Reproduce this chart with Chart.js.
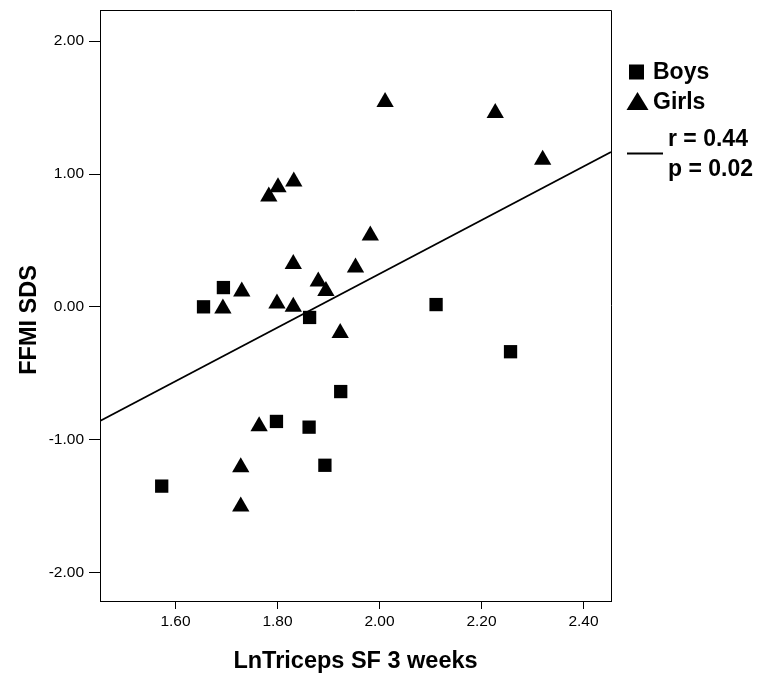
<!DOCTYPE html>
<html>
<head>
<meta charset="utf-8">
<title>FFMI SDS vs LnTriceps SF</title>
<script src="https://cdn.jsdelivr.net/npm/chart.js@4.4.0/dist/chart.umd.min.js"></script>
<style>
  html, body { margin: 0; padding: 0; background: #fff; }
  #wrap { width: 762px; height: 679px; }
</style>
</head>
<body>
<div id="wrap"><canvas id="scatterChart" width="762" height="679"></canvas></div>
<script>
(function() {
  'use strict';

  // LnTriceps SF at 3 weeks (x) against FFMI SDS (y)
  var boysX = [1.573, 1.655, 1.694, 1.798, 1.863, 1.862, 1.893, 1.924, 2.111, 2.257];
  var boysY = [-1.350, 0.000, 0.145, -0.863, -0.080, -0.906, -1.193, -0.638, 0.017, -0.338];

  var girlsX = [2.011, 2.227, 2.320, 1.832, 1.801, 1.783, 1.982, 1.831, 1.953, 1.880,
                1.730, 1.895, 1.693, 1.799, 1.831, 1.923, 1.764, 1.728, 1.728];
  var girlsY = [1.543, 1.460, 1.108, 0.943, 0.900, 0.830, 0.537, 0.323, 0.297, 0.190,
                0.115, 0.120, -0.013, 0.025, 0.000, -0.198, -0.900, -1.208, -1.504];

  // regression line, both sexes together
  var fitX = [1.452, 2.454];
  var fitY = [-0.860, 1.165];

  var xTicks = [1.6, 1.8, 2.0, 2.2, 2.4];
  var yTicks = [-2, -1, 0, 1, 2];
  var legendLabels = ['Boys', 'Girls'];
  var statLabels = ['r = 0.44', 'p = 0.02'];

  var FONT = '"Liberation Sans", Arial, Helvetica, sans-serif';

  function toPoints(xs, ys) {
    return xs.map(function(x, i) { return {x: x, y: ys[i]}; });
  }

  function fixedTicks(values) {
    return function(scale) {
      scale.ticks = values.map(function(v) { return {value: v}; });
    };
  }

  // frame, y title and the legend box on the right
  var extras = {
    id: 'extras',
    afterDraw: function(chart) {
      var ctx = chart.ctx;
      var area = chart.chartArea;
      ctx.save();
      ctx.strokeStyle = '#000';
      ctx.fillStyle = '#000';
      ctx.lineWidth = 1;
      ctx.beginPath();
      ctx.moveTo(area.left, area.top + 0.5);
      ctx.lineTo(area.right + 0.5, area.top + 0.5);
      ctx.lineTo(area.right + 0.5, area.bottom);
      ctx.stroke();

      ctx.save();
      ctx.translate(30, 320);
      ctx.rotate(-Math.PI / 2);
      ctx.font = 'bold 23.5px ' + FONT;
      ctx.textAlign = 'center';
      ctx.textBaseline = 'middle';
      ctx.fillText('FFMI SDS', 0, 0);
      ctx.restore();

      ctx.font = 'bold 23px ' + FONT;
      ctx.textAlign = 'left';
      ctx.textBaseline = 'alphabetic';

      ctx.fillRect(629, 64.5, 15, 15);
      ctx.fillText(legendLabels[0], 653, 79);

      ctx.beginPath();
      ctx.moveTo(637.5, 92);
      ctx.lineTo(648.5, 110);
      ctx.lineTo(626.5, 110);
      ctx.closePath();
      ctx.fill();
      ctx.fillText(legendLabels[1], 653, 109);

      ctx.lineWidth = 2;
      ctx.beginPath();
      ctx.moveTo(627, 153.5);
      ctx.lineTo(663, 153.5);
      ctx.stroke();
      ctx.fillText(statLabels[0], 668, 146);
      ctx.fillText(statLabels[1], 668, 176);
      ctx.restore();
    }
  };

  var ctx = document.getElementById('scatterChart');

  var scatterChart = new Chart(ctx, {
    type: 'scatter',
    data: {
      datasets: [{
        label: legendLabels[0],
        data: toPoints(boysX, boysY),
        pointStyle: 'rect',
        pointRadius: 9.4,
        backgroundColor: '#000',
        borderColor: '#000',
        borderWidth: 0
      }, {
        label: legendLabels[1],
        data: toPoints(girlsX, girlsY),
        pointStyle: 'triangle',
        pointRadius: 10,
        backgroundColor: '#000',
        borderColor: '#000',
        borderWidth: 0
      }, {
        type: 'line',
        label: 'fit',
        data: toPoints(fitX, fitY),
        showLine: true,
        pointRadius: 0,
        borderColor: '#000',
        borderWidth: 1.8,
        fill: false
      }]
    },
    options: {
      responsive: false,
      animation: false,
      devicePixelRatio: 1,
      layout: {
        padding: {left: 0, top: 8, right: 151, bottom: 0}
      },
      plugins: {
        legend: {display: false},
        tooltip: {enabled: false}
      },
      scales: {
        x: {
          type: 'linear',
          min: 1.452,
          max: 2.454,
          afterBuildTicks: fixedTicks(xTicks),
          afterFit: function(scale) {
            scale.height = 78;
            scale.paddingLeft = 0;
            scale.paddingRight = 0;
          },
          grid: {
            drawOnChartArea: false,
            drawTicks: true,
            tickLength: 8,
            color: '#000',
            lineWidth: 1
          },
          border: {display: true, color: '#000', width: 1},
          ticks: {
            padding: 3,
            color: '#000',
            font: {family: FONT, size: 15.5},
            maxRotation: 0,
            callback: function(v) { return Number(v).toFixed(2); }
          },
          title: {
            display: true,
            text: 'LnTriceps SF 3 weeks',
            color: '#000',
            font: {family: FONT, size: 23.5, weight: 'bold'},
            padding: {top: 0, bottom: 3}
          }
        },
        y: {
          type: 'linear',
          min: -2.215,
          max: 2.235,
          afterBuildTicks: fixedTicks(yTicks),
          afterFit: function(scale) {
            scale.width = 100;
            scale.paddingTop = 0;
            scale.paddingBottom = 0;
          },
          grid: {
            drawOnChartArea: false,
            drawTicks: true,
            tickLength: 11,
            color: '#000',
            lineWidth: 1
          },
          border: {display: true, color: '#000', width: 1},
          ticks: {
            padding: 5,
            color: '#000',
            font: {family: FONT, size: 15.5},
            callback: function(v) { return Number(v).toFixed(2); }
          }
        }
      }
    },
    plugins: [extras]
  });
}());
</script>
</body>
</html>
